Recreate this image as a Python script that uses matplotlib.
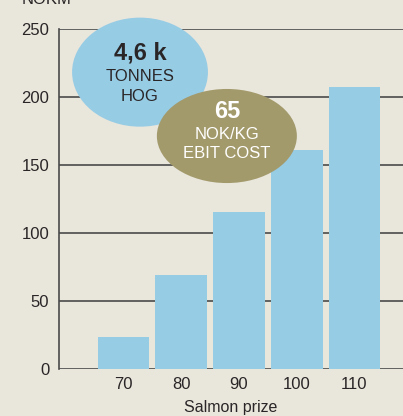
import matplotlib
matplotlib.use("Agg")
import matplotlib.pyplot as plt
from matplotlib.patches import Ellipse

# Profit by salmon price
prices = ["70", "80", "90", "100", "110"]
values = [23, 69, 115, 161, 207]
y_ticks = [0, 50, 100, 150, 200, 250]

bg = "#e9e6dc"
bar_color = "#97cce5"
olive = "#a39a6c"
ink = "#2a2627"
grid_color = "#4a4a4a"

plt.rcParams["font.family"] = ["Liberation Sans", "DejaVu Sans"]

fig = plt.figure(figsize=(4.03, 4.16), dpi=100, facecolor=bg)
ax = fig.add_axes([59 / 403, 1 - 368.7 / 416, 1 - 59 / 403, (368.7 - 29) / 416])
ax.set_facecolor(bg)

x = list(range(len(prices)))
ax.bar(x, values, width=0.9, color=bar_color, zorder=2)

ax.set_xlim(-1.117, 4.84)
ax.set_ylim(0, 250)
ax.set_yticks(y_ticks)
ax.set_xticks(x)
ax.set_xticklabels(prices)
ax.tick_params(axis="both", length=0, labelsize=12, colors=ink)
ax.tick_params(axis="y", pad=7)
ax.tick_params(axis="x", pad=6)
for t in y_ticks:
    ax.axhline(t, color=grid_color, lw=1.2, zorder=1)

for s in ["top", "right", "bottom"]:
    ax.spines[s].set_visible(False)
ax.spines["left"].set_color(grid_color)
ax.spines["left"].set_linewidth(1.2)

ax.set_xlabel("Salmon prize", fontsize=11.5, color=ink, labelpad=6)
fig.text(22 / 403, 1 - 4 / 416, "NOKM", fontsize=12, color=ink, va="baseline", ha="left")

# Callout bubbles
e1 = Ellipse((0.2355, 0.873), 0.395, 0.321, transform=ax.transAxes,
             facecolor=bar_color, edgecolor="none", zorder=5, clip_on=False)
ax.add_patch(e1)
ax.text(0.2355, 0.929, "4,6 k", transform=ax.transAxes, ha="center", va="center",
        fontsize=17, fontweight="bold", color=ink, zorder=6)
ax.text(0.2355, 0.861, "TONNES", transform=ax.transAxes, ha="center", va="center",
        fontsize=12, color=ink, zorder=6)
ax.text(0.2355, 0.800, "HOG", transform=ax.transAxes, ha="center", va="center",
        fontsize=12, color=ink, zorder=6)

e2 = Ellipse((0.488, 0.685), 0.407, 0.277, transform=ax.transAxes,
             facecolor=olive, edgecolor="none", zorder=7, clip_on=False)
ax.add_patch(e2)
ax.text(0.488, 0.758, "65", transform=ax.transAxes, ha="center", va="center",
        fontsize=17, fontweight="bold", color="white", zorder=8)
ax.text(0.488, 0.688, "NOK/KG", transform=ax.transAxes, ha="center", va="center",
        fontsize=12, color="white", zorder=8)
ax.text(0.488, 0.633, "EBIT COST", transform=ax.transAxes, ha="center", va="center",
        fontsize=12, color="white", zorder=8)

fig.savefig("out.png", dpi=100, facecolor=bg)
